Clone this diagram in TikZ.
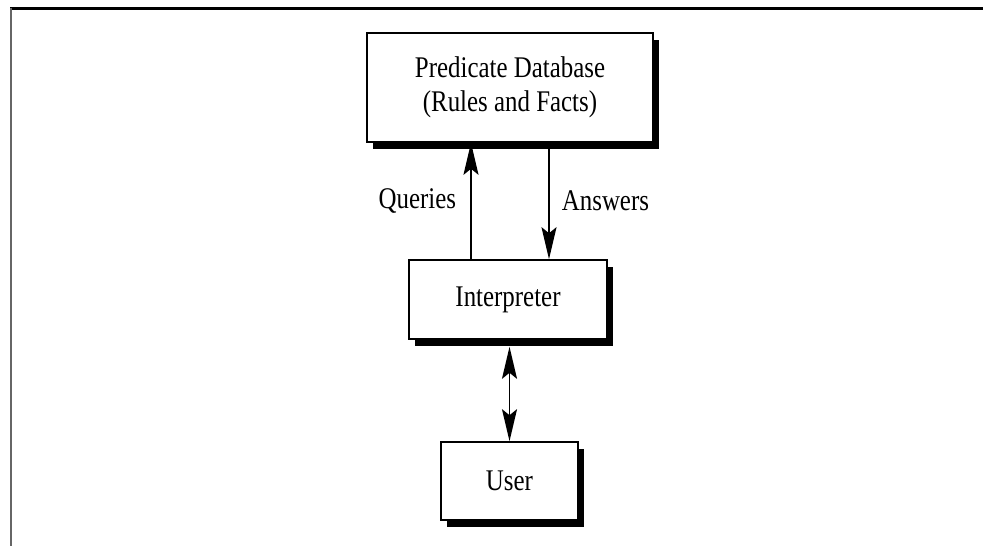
\documentclass[tikz,border=0pt]{standalone}
\usepackage{fontspec}
\setmainfont{Liberation Serif}[FakeStretch=0.83]
\usepackage{tikz}
\usetikzlibrary{arrows.meta,shadows}

\tikzset{
  box/.style={draw,line width=1.6pt,fill=white,inner sep=0pt,align=center,
    font=\fontsize{30}{34}\selectfont,
    drop shadow={fill=black,opacity=1,shadow xshift=6pt,shadow yshift=-7pt}},
  tip/.tip={Stealth[length=32pt,width=15pt,inset=6pt]},
  arr/.style={line width=1.8pt,-tip},
  biarr/.style={line width=1.8pt,tip-tip},
  lbl/.style={font=\fontsize{30}{34}\selectfont,inner sep=2pt}
}

\begin{document}
\begin{tikzpicture}[x=1pt,y=-1pt]
        \useasboundingbox (0,0) rectangle (983,546);
        % frame
        \draw[line width=3pt] (10,8) -- (983,8);
        \draw[line width=2pt,black!60] (10.5,8) -- (10.5,546);
        % boxes
        \node[box,minimum width=286pt,minimum height=109pt] (pred) at (510,87.5) {Predicate Database\\(Rules and Facts)};
        \node[box,minimum width=198pt,minimum height=79pt] (intp) at (508,299.5) {Interpreter};
        \node[box,minimum width=137pt,minimum height=78pt] (user) at (509.5,481) {User};
        % connectors
        \draw[arr] ([xshift=-37pt]intp.north) -- ([xshift=-37pt]intp.north |- pred.south) node[midway,left=12pt,lbl]{Queries};
        \draw[arr] ([xshift=41pt]intp.north |- pred.south) -- ([xshift=41pt]intp.north) node[midway,right=10pt,lbl]{Answers};
        \draw[biarr] ([yshift=-7pt]intp.south -| user.north) -- (user.north);
\end{tikzpicture}
\end{document}
